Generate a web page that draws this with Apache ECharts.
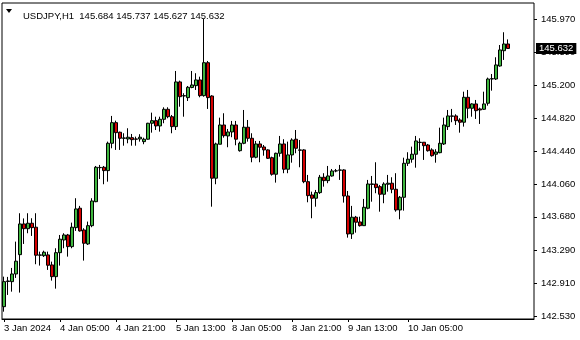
<!DOCTYPE html>
<html><head><meta charset="utf-8">
<script src="https://cdn.jsdelivr.net/npm/echarts@6/dist/echarts.min.js"></script>
<style>html,body{margin:0;padding:0;background:#fff}#c{width:580px;height:340px}</style>
</head><body><div id="c"></div>
<script>
const symbolTitle = 'USDJPY,H1  145.684 145.737 145.627 145.632';
const lastPrice = 145.632;
const opens = [142.639,142.931,142.929,143.018,143.242,143.598,143.543,143.606,143.560,143.235,
143.230,143.239,143.123,142.987,143.265,143.412,143.470,143.335,143.555,143.780,
143.528,143.366,143.578,143.856,144.250,144.255,144.216,144.533,144.772,144.661,
144.591,144.583,144.598,144.583,144.583,144.552,144.580,144.765,144.795,144.734,
144.811,144.927,144.841,144.726,145.244,145.081,145.062,145.180,145.201,145.267,
145.085,145.467,145.081,144.128,144.522,144.745,144.618,144.664,144.745,144.447,
144.533,144.719,144.591,144.371,144.525,144.490,144.456,144.366,144.174,144.417,
144.525,144.232,144.398,144.580,144.456,144.456,144.088,143.934,143.896,143.961,
144.139,144.100,144.154,144.212,144.220,144.224,143.922,143.482,143.676,143.621,
143.578,143.780,144.056,144.061,144.030,143.942,144.058,144.070,144.000,143.760,
143.907,144.301,144.348,144.406,144.545,144.545,144.513,144.456,144.406,144.424,
144.525,144.726,144.850,144.850,144.803,144.777,145.066,144.939,144.989,144.931,
144.927,144.997,145.278,145.278,145.429,145.606,145.684];
const highs = [142.987,142.984,143.088,143.393,143.722,143.662,143.722,143.664,143.722,143.277,
143.288,143.277,143.161,143.316,143.470,143.490,143.482,143.613,143.896,143.807,
143.548,143.625,143.896,144.270,144.282,144.270,144.552,144.850,144.795,144.668,
144.649,144.707,144.641,144.610,144.638,144.598,144.770,144.888,144.841,144.841,
144.950,144.950,144.861,145.371,145.259,145.113,145.197,145.371,145.345,145.305,
145.974,145.487,145.090,144.540,144.830,144.881,144.699,144.792,144.792,144.552,
144.919,144.803,144.649,144.560,144.560,144.513,144.464,144.378,144.424,144.618,
144.580,144.552,144.591,144.687,144.571,144.464,144.166,143.972,143.992,144.166,
144.186,144.270,144.235,144.235,144.282,144.232,143.980,143.807,143.691,143.682,
143.888,144.108,144.154,144.313,144.050,144.081,144.166,144.139,144.186,143.922,
144.366,144.429,144.494,144.618,144.591,144.548,144.525,144.475,144.464,144.714,
144.830,144.919,144.931,144.869,144.823,145.131,145.151,144.997,145.035,144.946,
145.131,145.294,145.336,145.530,145.672,145.820,145.737];
const lows = [142.581,142.775,142.813,142.972,142.802,143.366,143.490,143.459,143.131,143.115,
143.215,143.065,142.941,142.848,143.115,143.316,143.219,143.316,143.517,143.509,
143.173,143.354,143.560,143.850,144.119,144.058,144.088,144.475,144.456,144.456,
144.505,144.533,144.505,144.505,144.552,144.522,144.575,144.656,144.687,144.668,
144.765,144.823,144.649,144.687,144.957,144.841,145.023,145.171,145.151,145.066,
145.073,144.931,143.798,144.058,144.522,144.598,144.487,144.603,144.510,144.436,
144.522,144.552,144.313,144.359,144.313,144.389,144.351,144.158,144.077,144.378,
144.186,144.186,144.308,144.417,144.255,144.070,143.849,143.664,143.798,143.946,
144.030,144.070,144.146,144.197,144.108,143.845,143.439,143.424,143.497,143.567,
143.575,143.768,143.856,143.954,143.740,143.838,143.972,143.954,143.740,143.652,
143.752,144.270,144.308,144.250,144.447,144.340,144.436,144.378,144.308,144.417,
144.513,144.687,144.777,144.745,144.656,144.726,144.823,144.841,144.815,144.757,
144.919,144.969,145.143,145.267,145.421,145.499,145.627];
const closes = [142.929,142.937,143.018,143.166,143.598,143.543,143.606,143.555,143.235,143.239,
143.270,143.119,142.987,143.265,143.421,143.470,143.335,143.560,143.772,143.517,
143.374,143.578,143.864,144.255,144.253,144.216,144.533,144.772,144.656,144.591,
144.595,144.603,144.575,144.580,144.603,144.580,144.765,144.795,144.734,144.811,
144.927,144.841,144.726,145.244,145.073,145.085,145.182,145.209,145.267,145.085,
145.467,145.062,144.128,144.525,144.745,144.621,144.664,144.745,144.580,144.533,
144.719,144.591,144.371,144.525,144.487,144.456,144.359,144.174,144.417,144.525,
144.232,144.398,144.571,144.475,144.452,144.088,143.926,143.896,143.961,144.139,
144.100,144.154,144.212,144.214,144.224,143.922,143.482,143.676,143.618,143.578,
143.791,144.061,144.062,144.019,143.942,144.061,144.070,144.000,143.760,143.907,
144.301,144.348,144.406,144.560,144.542,144.505,144.447,144.389,144.432,144.533,
144.745,144.850,144.846,144.795,144.777,145.066,144.939,144.989,144.911,144.919,
144.989,145.278,145.282,145.441,145.615,145.684,145.632];
const xLabelIdx = [0, 14, 28, 43, 57, 72, 86, 101];
const xLabels = ['3 Jan 2024','4 Jan 05:00','4 Jan 21:00','5 Jan 13:00','8 Jan 05:00','8 Jan 21:00','9 Jan 13:00','10 Jan 05:00'];
const yTicks = [142.530,142.910,143.290,143.680,144.060,144.440,144.820,145.200,145.590,145.970];

const emptySlots = 6;
const cats = [];
for (let i = 0; i < opens.length + emptySlots; i++) cats.push(String(i));
const candles = opens.map((o, i) => [o, closes[i], lows[i], highs[i]]);
const labelMap = {};
xLabelIdx.forEach((k, j) => { labelMap[k] = xLabels[j]; });
const FONT = 'Liberation Sans';

const chart = echarts.init(document.getElementById('c'), null, {renderer: 'canvas'});
chart.setOption({
  animation: false,
  backgroundColor: '#fff',
  title: {
    text: symbolTitle, left: 18, top: 6,
    textStyle: {fontFamily: FONT, fontSize: 9.5, fontWeight: 'normal', color: '#000'}
  },
  graphic: [{type: 'polygon', shape: {points: [[6, 9], [12, 9], [9, 13]]}, style: {fill: '#000'}}],
  grid: {left: 2, right: 46, top: 3, bottom: 21, show: true, borderColor: '#000', borderWidth: 1, backgroundColor: 'transparent'},
  xAxis: {
    type: 'category', data: cats, boundaryGap: true,
    axisLine: {show: true, lineStyle: {color: '#000'}},
    axisTick: {show: true, alignWithLabel: true, length: 3, lineStyle: {color: '#000'},
      interval: (i) => labelMap[i] !== undefined},
    axisLabel: {interval: (i) => labelMap[i] !== undefined, formatter: (v, i) => labelMap[i] || '',
      align: 'left', margin: 4, color: '#000', fontFamily: FONT, fontSize: 9.5},
    splitLine: {show: false}
  },
  yAxis: {
    type: 'value', position: 'right', min: 142.496, max: 146.159, scale: true,
    axisLine: {show: false},
    axisTick: {show: true, length: 3, lineStyle: {color: '#000'}, customValues: yTicks},
    axisLabel: {customValues: yTicks, formatter: (v) => v.toFixed(3), margin: 7,
      color: '#000', fontFamily: FONT, fontSize: 9.5},
    splitLine: {show: false}
  },
  series: [{
    type: 'candlestick', data: candles, barWidth: 3,
    itemStyle: {color: '#3fb63f', color0: '#d40000', borderColor: '#000', borderColor0: '#000', borderWidth: 1},
    markLine: {
      silent: true, symbol: 'none', animation: false, precision: 3,
      lineStyle: {color: 'rgba(0,0,0,0)', width: 1, type: 'solid'},
      label: {show: true, position: 'end', distance: 2, formatter: () => lastPrice.toFixed(3),
        backgroundColor: '#000', color: '#fff', padding: [1, 3, 0, 3], fontFamily: FONT, fontSize: 9.5},
      emphasis: {disabled: true},
      data: [{yAxis: lastPrice}]
    }
  }]
});
</script></body></html>
